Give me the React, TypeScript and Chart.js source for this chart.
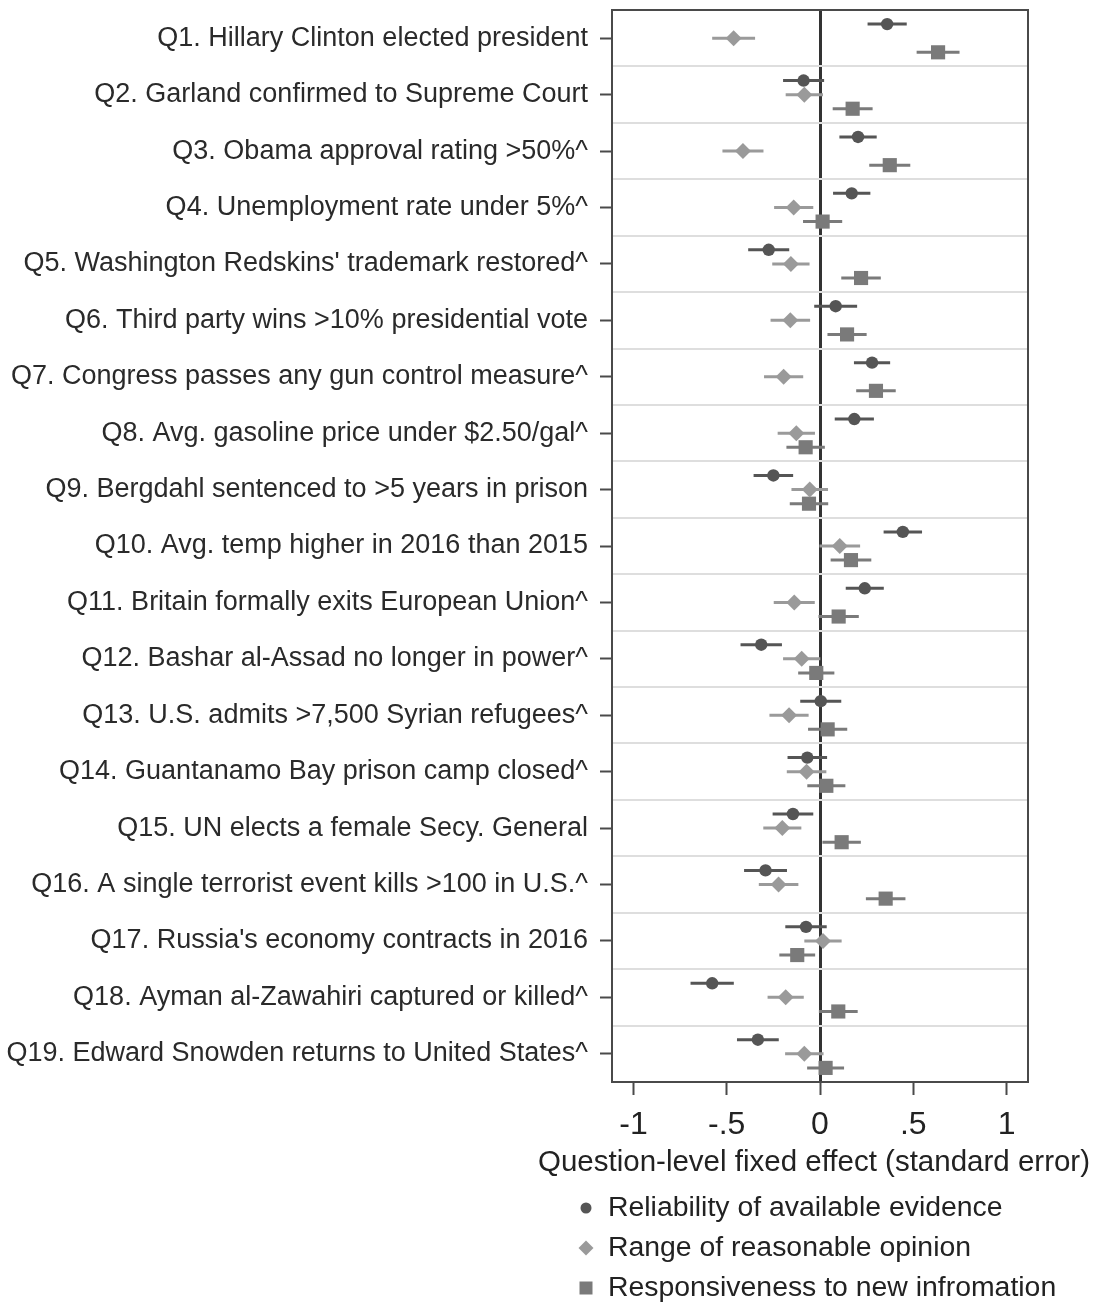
import React, { useEffect, useRef } from 'react';
import { Chart, registerables } from 'chart.js';

Chart.register(...registerables);

const questions = [
  'Q1. Hillary Clinton elected president',
  'Q2. Garland confirmed to Supreme Court',
  'Q3. Obama approval rating >50%^',
  'Q4. Unemployment rate under 5%^',
  "Q5. Washington Redskins' trademark restored^",
  'Q6. Third party wins >10% presidential vote',
  'Q7. Congress passes any gun control measure^',
  'Q8. Avg. gasoline price under $2.50/gal^',
  'Q9. Bergdahl sentenced to >5 years in prison',
  'Q10. Avg. temp higher in 2016 than 2015',
  'Q11. Britain formally exits European Union^',
  'Q12. Bashar al-Assad no longer in power^',
  'Q13. U.S. admits >7,500 Syrian refugees^',
  'Q14. Guantanamo Bay prison camp closed^',
  'Q15. UN elects a female Secy. General',
  'Q16. A single terrorist event kills >100 in U.S.^',
  "Q17. Russia's economy contracts in 2016",
  'Q18. Ayman al-Zawahiri captured or killed^',
  'Q19. Edward Snowden returns to United States^',
];

const seriesNames = [
  'Reliability of available evidence',
  'Range of reasonable opinion',
  'Responsiveness to new infromation',
];

const xAxisTitle = 'Question-level fixed effect (standard error)';

const reliabilityEst = [0.36, -0.088, 0.204, 0.17, -0.275, 0.084, 0.279, 0.184, -0.25, 0.444, 0.24, -0.315, 0.004, -0.068, -0.145, -0.292, -0.075, -0.578, -0.333];
const reliabilitySE = [0.105, 0.11, 0.1, 0.1, 0.11, 0.115, 0.097, 0.105, 0.106, 0.103, 0.102, 0.111, 0.11, 0.106, 0.109, 0.115, 0.111, 0.116, 0.112];

const rangeEst = [-0.463, -0.084, -0.413, -0.141, -0.156, -0.159, -0.195, -0.127, -0.055, 0.106, -0.138, -0.098, -0.166, -0.072, -0.202, -0.222, 0.016, -0.184, -0.084];
const rangeSE = [0.115, 0.1, 0.11, 0.105, 0.1, 0.106, 0.105, 0.1, 0.098, 0.109, 0.11, 0.1, 0.105, 0.106, 0.102, 0.106, 0.1, 0.097, 0.103];

const responsivenessEst = [0.633, 0.175, 0.374, 0.014, 0.22, 0.145, 0.3, -0.077, -0.059, 0.166, 0.1, -0.02, 0.041, 0.034, 0.116, 0.352, -0.122, 0.098, 0.03];
const responsivenessSE = [0.115, 0.107, 0.11, 0.105, 0.106, 0.105, 0.106, 0.103, 0.103, 0.109, 0.108, 0.097, 0.105, 0.102, 0.103, 0.106, 0.096, 0.104, 0.099];

const xTickValues = [-1, -0.5, 0, 0.5, 1];
const xTickLabels = ['-1', '-.5', '0', '.5', '1'];

const FONT = "'Liberation Sans', Arial, sans-serif";

const errorBarPlugin = {
  id: 'errorBars',
  beforeDatasetsDraw(chart: any) {
    const { ctx, scales } = chart;
    const x = scales.x;
    const y = scales.y;
    chart.data.datasets.forEach((ds: any) => {
      ds.data.forEach((pt: any, i: number) => {
        const se = ds.se[i];
        const yp = y.getPixelForValue(pt.y);
        ctx.save();
        ctx.strokeStyle = ds.backgroundColor;
        ctx.lineWidth = 3;
        ctx.beginPath();
        ctx.moveTo(x.getPixelForValue(pt.x - se), yp);
        ctx.lineTo(x.getPixelForValue(pt.x + se), yp);
        ctx.stroke();
        ctx.restore();
      });
    });
  },
};

const framePlugin = {
  id: 'frame',
  afterDatasetsDraw(chart: any) {
    const { ctx, chartArea } = chart;
    ctx.save();
    ctx.strokeStyle = '#4a4a4a';
    ctx.lineWidth = 2;
    ctx.strokeRect(chartArea.left, chartArea.top, chartArea.right - chartArea.left, chartArea.bottom - chartArea.top);
    ctx.restore();
  },
};

const axisTitlePlugin = {
  id: 'wideAxisTitle',
  afterDraw(chart: any) {
    const { ctx, chartArea } = chart;
    ctx.save();
    ctx.fillStyle = '#222';
    ctx.font = `29.5px ${FONT}`;
    ctx.textAlign = 'center';
    ctx.textBaseline = 'middle';
    ctx.fillText(xAxisTitle, (chartArea.left + chartArea.right) / 2 - 6, chartArea.bottom + 81);
    ctx.restore();
  },
};

const legendPlugin = {
  id: 'stackedLegend',
  afterDraw(chart: any) {
    const { ctx, chartArea } = chart;
    const markerX = chartArea.left - 26;
    const textX = chartArea.left - 4;
    const startY = chartArea.bottom + 126;
    const gap = 40;
    ctx.save();
    chart.data.datasets.forEach((ds: any, i: number) => {
      const cy = startY + i * gap;
      ctx.fillStyle = ds.backgroundColor;
      ctx.beginPath();
      if (ds.pointStyle === 'circle') {
        ctx.arc(markerX, cy, 5.5, 0, Math.PI * 2);
      } else if (ds.pointStyle === 'rectRot') {
        const r = 7.5;
        ctx.moveTo(markerX, cy - r);
        ctx.lineTo(markerX + r, cy);
        ctx.lineTo(markerX, cy + r);
        ctx.lineTo(markerX - r, cy);
        ctx.closePath();
      } else {
        ctx.rect(markerX - 6.5, cy - 6.5, 13, 13);
      }
      ctx.fill();
      ctx.fillStyle = '#222';
      ctx.font = `28.4px ${FONT}`;
      ctx.textAlign = 'left';
      ctx.textBaseline = 'middle';
      ctx.fillText(ds.label, textX, cy);
    });
    ctx.restore();
  },
};

function buildData(est: number[], offset: number) {
  return est.map((v, i) => ({ x: v, y: i + 0.5 + offset }));
}

export default function App() {
  const canvasRef = useRef<HTMLCanvasElement | null>(null);

  useEffect(() => {
    if (!canvasRef.current) return;
    const chart = new Chart(canvasRef.current, {
      type: 'scatter',
      data: {
        datasets: [
          {
            label: seriesNames[0],
            data: buildData(reliabilityEst, -0.25),
            se: reliabilitySE,
            backgroundColor: '#555555',
            borderColor: '#555555',
            pointStyle: 'circle',
            pointRadius: 6.2,
            pointBorderWidth: 0,
          } as any,
          {
            label: seriesNames[1],
            data: buildData(rangeEst, 0),
            se: rangeSE,
            backgroundColor: '#9a9a9a',
            borderColor: '#9a9a9a',
            pointStyle: 'rectRot',
            pointRadius: 8,
            pointBorderWidth: 0,
          } as any,
          {
            label: seriesNames[2],
            data: buildData(responsivenessEst, 0.25),
            se: responsivenessSE,
            backgroundColor: '#7a7a7a',
            borderColor: '#7a7a7a',
            pointStyle: 'rect',
            pointRadius: 10,
            pointBorderWidth: 0,
          } as any,
        ],
      },
      options: {
        responsive: false,
        animation: false,
        events: [],
        layout: { padding: { left: 0, right: 69, top: 7, bottom: 120 } },
        plugins: {
          legend: { display: false },
          tooltip: { enabled: false },
        },
        scales: {
          x: {
            type: 'linear',
            min: -1.115,
            max: 1.115,
            afterBuildTicks: (scale: any) => {
              scale.ticks = xTickValues.map((v) => ({ value: v }));
            },
            afterFit: (scale: any) => {
              scale.height = 100;
              scale.paddingLeft = 0;
              scale.paddingRight = 0;
            },
            ticks: {
              padding: 11,
              color: '#222',
              font: { family: FONT, size: 32 },
              maxRotation: 0,
              callback: (value: any) => {
                const idx = xTickValues.indexOf(Number(value));
                return idx >= 0 ? xTickLabels[idx] : '';
              },
            },
            grid: {
              drawOnChartArea: true,
              drawTicks: true,
              tickLength: 13,
              tickColor: '#4a4a4a',
              tickWidth: 2,
              color: (ctx: any) => (ctx.tick && ctx.tick.value === 0 ? '#333333' : 'rgba(0,0,0,0)'),
              lineWidth: (ctx: any) => (ctx.tick && ctx.tick.value === 0 ? 3 : 1),
            },
            border: { display: false },
            title: { display: false },
          },
          y: {
            type: 'linear',
            min: 0,
            max: 19,
            reverse: true,
            afterBuildTicks: (scale: any) => {
              scale.ticks = questions.map((_, i) => ({ value: i + 0.5 }));
            },
            afterFit: (scale: any) => {
              scale.width = 612;
              scale.paddingTop = 0;
              scale.paddingBottom = 0;
            },
            ticks: {
              padding: 12,
              color: '#2a2a2a',
              font: { family: FONT, size: 27 },
              autoSkip: false,
              callback: (value: any) => questions[Math.floor(Number(value))] ?? '',
            },
            grid: {
              drawOnChartArea: false,
              drawTicks: true,
              tickLength: 12,
              tickColor: '#4a4a4a',
              tickWidth: 2,
            },
            border: { display: false },
          },
          y2: {
            type: 'linear',
            position: 'right',
            min: 0,
            max: 19,
            reverse: true,
            afterBuildTicks: (scale: any) => {
              scale.ticks = questions.slice(1).map((_, i) => ({ value: i + 1 }));
            },
            afterFit: (scale: any) => {
              scale.paddingTop = 0;
              scale.paddingBottom = 0;
            },
            ticks: { display: false },
            grid: {
              drawOnChartArea: true,
              drawTicks: false,
              color: '#dedede',
              lineWidth: 2,
            },
            border: { display: false },
          },
        },
      } as any,
      plugins: [errorBarPlugin, framePlugin, axisTitlePlugin, legendPlugin],
    });
    return () => chart.destroy();
  }, []);

  return (
    <div style={{ position: 'absolute', left: 0, top: 0, width: 1097, height: 1302, background: '#fff' }}>
      <canvas ref={canvasRef} width={1097} height={1302} style={{ width: 1097, height: 1302, display: 'block' }} />
    </div>
  );
}
